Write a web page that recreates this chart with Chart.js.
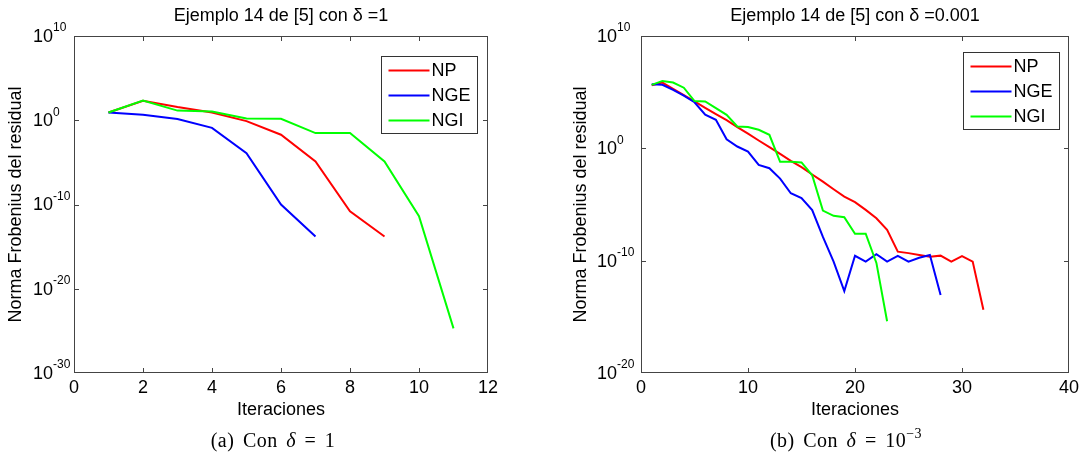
<!DOCTYPE html>
<html>
<head>
<meta charset="utf-8">
<script src="https://cdn.jsdelivr.net/npm/chart.js@4.4.1/dist/chart.umd.min.js"></script>
<style>
  html, body { margin: 0; padding: 0; background: #fff; }
  body { width: 1081px; height: 460px; position: relative; overflow: hidden; }
  canvas { position: absolute; top: 0; }
  #chartA { left: 0; }
  #chartB { left: 540px; }
  .cap {
    position: absolute; top: 429px; transform: translateX(-50%);
    font-family: "Liberation Serif", "DejaVu Serif", serif; font-size: 20px;
    color: #000; white-space: nowrap; letter-spacing: 0.5px; word-spacing: 3px;
  }
  .cap sup { font-size: 14px; line-height: 0; position: relative; top: -1px; }
</style>
</head>
<body>
<canvas id="chartA" width="540" height="460"></canvas>
<canvas id="chartB" width="541" height="460"></canvas>
<div class="cap" style="left:273px">(a) Con <i>δ</i> = 1</div>
<div class="cap" style="left:846px">(b) Con <i>δ</i> = 10<sup>−3</sup></div>

<script>
// Residual Frobenius norm per iteration (iteration k = position + 1)
// Panel (a): delta = 1
const seriesNames = ['NP', 'NGE', 'NGI'];
const seriesColors = ['#ff0000', '#0000ff', '#00ff00'];

const npA  = [8.3, 200, 37, 8.5, 0.79, 1.9e-2, 1.3e-5, 1.6e-11, 1.6e-14];
const ngeA = [8.3, 4.5, 1.4, 0.125, 1.26e-4, 1.0e-10, 1.6e-14];
const ngiA = [8.3, 214, 14, 11, 1.66, 1.48, 3.0e-2, 3.0e-2, 1.3e-5, 4.0e-12, 2.0e-25];

// Panel (b): delta = 0.001
const npB = [4.0e5, 7.2e5, 2.0e5, 5.4e4, 1.5e4, 4.0e3, 1.1e3, 320, 78, 20,
             5.0, 1.26, 0.32, 7.8e-2, 2.1e-2, 4.7e-3, 1.1e-3, 2.3e-4, 5.1e-5, 1.6e-5,
             3.3e-6, 6.0e-7, 5.5e-8, 6.3e-10, 4.7e-10, 3.2e-10, 2.2e-10, 2.8e-10, 8.3e-11, 2.5e-10,
             8.3e-11, 4.2e-15];
const ngeB = [5.0e5, 4.5e5, 1.6e5, 5.0e4, 1.26e4, 1.0e3, 350, 6.3, 1.45, 0.52,
              3.4e-2, 1.7e-2, 2.0e-3, 1.0e-4, 3.7e-5, 3.2e-6, 1.3e-8, 8.3e-11, 2.0e-13, 2.7e-10,
              8.3e-11, 3.8e-10, 8.3e-11, 2.7e-10, 8.3e-11, 1.8e-10, 3.2e-10, 8.9e-14];
const ngiB = [4.5e5, 1.0e6, 7.2e5, 2.5e5, 1.6e4, 1.5e4, 3.8e3, 950, 87, 78,
              45, 16, 6.3e-2, 6.3e-2, 5.6e-2, 4.0e-3, 2.9e-6, 9.8e-7, 7.4e-7, 2.5e-8,
              2.5e-8, 6.3e-11, 4.0e-16];

// Axis ticks and labels
const xTicksA = [0, 2, 4, 6, 8, 10, 12];
const xTicksB = [0, 10, 20, 30, 40];
const yTicksA = [1e10, 1, 1e-10, 1e-20, 1e-30];
const yExpA   = ['10', '0', '-10', '-20', '-30'];
const yTicksB = [1e10, 1, 1e-10, 1e-20];
const yExpB   = ['10', '0', '-10', '-20'];

const titleA = 'Ejemplo 14 de [5] con δ =1';
const titleB = 'Ejemplo 14 de [5] con δ =0.001';
const xTitle = 'Iteraciones';
const yTitle = 'Norma Frobenius del residual';

const FONT = '"Liberation Sans", Arial, Helvetica, sans-serif';

// Boxed axes with inward ticks, power-of-ten labels, titles and an inset legend
const matlabAxes = {
  id: 'matlabAxes',
  afterDraw(chart, args, o) {
    const { ctx, chartArea: a, scales: { x, y } } = chart;
    ctx.save();
    ctx.strokeStyle = '#444';
    ctx.lineWidth = 1;
    ctx.beginPath();
    o.xTicks.forEach(v => {
      const px = Math.round(x.getPixelForValue(v)) + 0.5;
      if (px > a.left + 2 && px < a.right - 2) {
        ctx.moveTo(px, a.bottom); ctx.lineTo(px, a.bottom - 5);
        ctx.moveTo(px, a.top); ctx.lineTo(px, a.top + 5);
      }
    });
    o.yTicks.forEach(v => {
      const py = Math.round(y.getPixelForValue(v)) + 0.5;
      if (py > a.top + 2 && py < a.bottom - 2) {
        ctx.moveTo(a.left, py); ctx.lineTo(a.left + 5, py);
        ctx.moveTo(a.right, py); ctx.lineTo(a.right - 5, py);
      }
    });
    ctx.stroke();
    ctx.strokeRect(a.left + 0.5, a.top + 0.5, a.right - a.left - 1, a.bottom - a.top - 1);

    ctx.fillStyle = '#000';
    ctx.textBaseline = 'middle';
    // x tick labels
    ctx.font = '18px ' + FONT;
    ctx.textAlign = 'center';
    o.xTicks.forEach(v => ctx.fillText(String(v), x.getPixelForValue(v), a.bottom + 15));
    // y tick labels as powers of ten
    ctx.textAlign = 'left';
    o.yTicks.forEach((v, i) => {
      const py = y.getPixelForValue(v);
      const lx = a.left - o.labelOffset;
      ctx.font = '18px ' + FONT;
      ctx.fillText('10', lx, py + 1);
      const w = ctx.measureText('10').width;
      ctx.font = '12px ' + FONT;
      ctx.fillText(o.yExp[i], lx + w, py - 8);
    });
    // titles
    ctx.font = '18px ' + FONT;
    ctx.textAlign = 'center';
    ctx.fillText(o.title, (a.left + a.right) / 2, 16);
    ctx.fillText(o.xTitle, (a.left + a.right) / 2, a.bottom + 37);
    ctx.save();
    ctx.translate(o.yTitleX, (a.top + a.bottom) / 2);
    ctx.rotate(-Math.PI / 2);
    ctx.fillText(o.yTitle, 0, 0);
    ctx.restore();

    // legend
    const ds = chart.data.datasets;
    ctx.font = '18px ' + FONT;
    const maxW = Math.max(...ds.map(d => ctx.measureText(d.label).width));
    const bw = 50 + maxW + 7, bh = 77;
    const bx = Math.round(a.right - o.legendRight - bw) + 0.5;
    const by = Math.round(a.top + o.legendTop) + 0.5;
    ctx.fillStyle = '#fff';
    ctx.fillRect(bx, by, bw, bh);
    ctx.strokeStyle = '#333';
    ctx.strokeRect(bx, by, bw, bh);
    ds.forEach((d, i) => {
      const ry = by + 14 + i * 25;
      ctx.strokeStyle = d.borderColor;
      ctx.lineWidth = 2;
      ctx.beginPath();
      ctx.moveTo(bx + 7, ry); ctx.lineTo(bx + 48, ry);
      ctx.stroke();
      ctx.fillStyle = '#000';
      ctx.textAlign = 'left';
      ctx.fillText(d.label, bx + 50, ry + 1);
    });
    ctx.restore();
  }
};

function makeDatasets(lists) {
  return lists.map((vals, s) => ({
    label: seriesNames[s],
    data: vals.map((v, i) => ({ x: i + 1, y: v })),
    borderColor: seriesColors[s],
    backgroundColor: seriesColors[s],
    borderWidth: 2,
    pointRadius: 0,
    tension: 0,
    fill: false,
    order: 3 - s
  }));
}

const hiddenAxisParts = {
  ticks: { display: false },
  grid: { display: false, drawTicks: false },
  border: { display: false },
  title: { display: false }
};

function makeChart(id, lists, cfg) {
  return new Chart(document.getElementById(id), {
    type: 'line',
    data: { datasets: makeDatasets(lists) },
    plugins: [matlabAxes],
    options: {
      responsive: false,
      animation: false,
      devicePixelRatio: 1,
      layout: { padding: cfg.padding },
      plugins: {
        legend: { display: false },
        tooltip: { enabled: false },
        title: { display: false },
        matlabAxes: cfg.deco
      },
      scales: {
        x: Object.assign({ type: 'linear', min: cfg.xMin, max: cfg.xMax }, hiddenAxisParts),
        y: Object.assign({
          type: 'logarithmic', min: cfg.yMin, max: cfg.yMax,
          afterBuildTicks: s => { s.ticks = cfg.deco.yTicks.map(v => ({ value: v })); }
        }, hiddenAxisParts)
      }
    }
  });
}

makeChart('chartA', [npA, ngeA, ngiA], {
  padding: { left: 74, right: 52, top: 36, bottom: 87 },
  xMin: 0, xMax: 12, yMin: 1e-30, yMax: 1e10,
  deco: {
    xTicks: xTicksA, yTicks: yTicksA, yExp: yExpA,
    title: titleA, xTitle: xTitle, yTitle: yTitle,
    labelOffset: 41, yTitleX: 16, legendRight: 11, legendTop: 20
  }
});

makeChart('chartB', [npB, ngeB, ngiB], {
  padding: { left: 101, right: 12, top: 36, bottom: 87 },
  xMin: 0, xMax: 40, yMin: 1e-20, yMax: 1e10,
  deco: {
    xTicks: xTicksB, yTicks: yTicksB, yExp: yExpB,
    title: titleB, xTitle: xTitle, yTitle: yTitle,
    labelOffset: 44, yTitleX: 41, legendRight: 10, legendTop: 16
  }
});
</script>
</body>
</html>
